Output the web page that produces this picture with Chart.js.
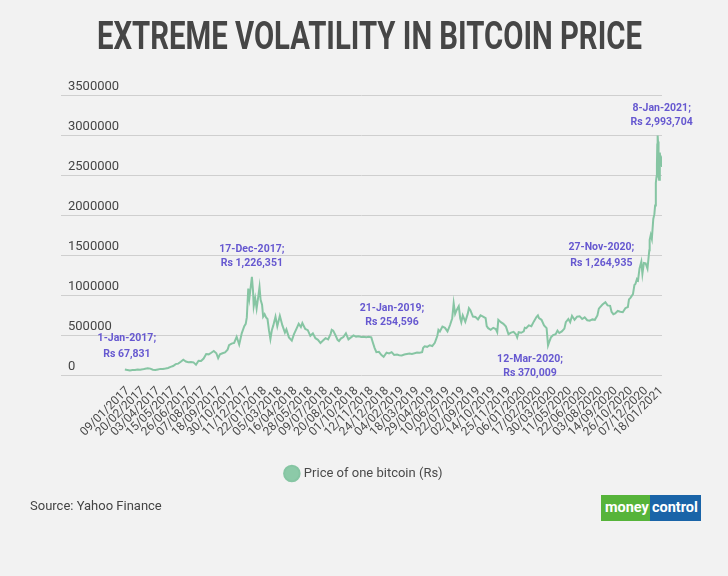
<!DOCTYPE html>
<html><head><meta charset="utf-8">
<script src="https://cdn.jsdelivr.net/npm/chart.js@4.4.0/dist/chart.umd.min.js"></script>
<style>
html,body{margin:0;padding:0;width:728px;height:576px;overflow:hidden;background:#f2f2f2;}
#wrap{position:relative;width:728px;height:576px;}
#title{position:absolute;left:0;top:17px;width:728px;text-align:center;padding-left:7px;box-sizing:border-box;font:bold 39px/39px Roboto,sans-serif;color:#464646;white-space:nowrap;}
#title span{display:inline-block;transform-origin:50% 50%;}
#source{position:absolute;left:30px;top:498px;font:13px/16px Roboto,sans-serif;color:#444;white-space:nowrap;}
#logo{position:absolute;left:601px;top:495px;height:26px;display:flex;font:bold 14.5px/26px Roboto,sans-serif;color:#fff;}
#logo .g{background:#56b43a;padding:0 1px 0 4px;}
#logo .b{background:#1a64a8;padding:0 3px 0 2px;}
canvas{position:absolute;left:0;top:0;}
</style></head>
<body><div id="wrap">
<canvas id="c" width="728" height="576"></canvas>
<div id="title"><span>EXTREME VOLATILITY IN BITCOIN PRICE</span></div>
<div id="source">Source: Yahoo Finance</div>
<div id="logo"><span class="g">money</span><span class="b">control</span></div>
</div>
<script>
const seriesName = 'Price of one bitcoin (Rs)';
const dates = [
'2017-01-01','2017-01-08','2017-01-15','2017-01-22','2017-01-29','2017-02-05','2017-02-12','2017-02-19','2017-02-26','2017-03-05',
'2017-03-12','2017-03-19','2017-03-26','2017-04-02','2017-04-09','2017-04-16','2017-04-23','2017-04-30','2017-05-07','2017-05-14',
'2017-05-21','2017-05-28','2017-06-04','2017-06-11','2017-06-18','2017-06-25','2017-07-02','2017-07-09','2017-07-16','2017-07-23',
'2017-07-30','2017-08-06','2017-08-13','2017-08-20','2017-08-27','2017-09-03','2017-09-10','2017-09-15','2017-09-20','2017-09-27',
'2017-10-04','2017-10-11','2017-10-15','2017-10-22','2017-10-29','2017-11-05','2017-11-12','2017-11-19','2017-11-26','2017-11-30',
'2017-12-03','2017-12-07','2017-12-10','2017-12-13','2017-12-17','2017-12-20','2017-12-22','2017-12-26','2017-12-30',
'2018-01-03','2018-01-07','2018-01-10','2018-01-14','2018-01-17','2018-01-21','2018-01-25','2018-01-29','2018-02-02','2018-02-06',
'2018-02-10','2018-02-14','2018-02-20','2018-02-25','2018-03-04','2018-03-11','2018-03-18','2018-03-22','2018-03-29','2018-04-06',
'2018-04-12','2018-04-19','2018-04-25','2018-05-01','2018-05-05','2018-05-13','2018-05-20','2018-05-27','2018-06-03','2018-06-10',
'2018-06-17','2018-06-24','2018-07-01','2018-07-08','2018-07-15','2018-07-22','2018-07-25','2018-07-29','2018-08-05','2018-08-10',
'2018-08-14','2018-08-19','2018-08-26','2018-09-02','2018-09-09','2018-09-16','2018-09-23','2018-09-30','2018-10-07','2018-10-14',
'2018-10-21','2018-10-28','2018-11-04','2018-11-11','2018-11-15','2018-11-20','2018-11-25','2018-12-02','2018-12-09','2018-12-15',
'2018-12-23','2018-12-30',
'2019-01-06','2019-01-13','2019-01-21','2019-01-27','2019-02-03','2019-02-10','2019-02-17','2019-02-24','2019-03-03','2019-03-10',
'2019-03-17','2019-03-24','2019-03-31','2019-04-03','2019-04-07','2019-04-14','2019-04-21','2019-04-28','2019-05-05','2019-05-12',
'2019-05-15','2019-05-19','2019-05-26','2019-06-02','2019-06-09','2019-06-16','2019-06-22','2019-06-26','2019-06-30','2019-07-04',
'2019-07-10','2019-07-14','2019-07-17','2019-07-21','2019-07-28','2019-08-04','2019-08-07','2019-08-11','2019-08-18','2019-08-25',
'2019-09-01','2019-09-08','2019-09-15','2019-09-22','2019-09-25','2019-09-29','2019-10-06','2019-10-13','2019-10-20','2019-10-24',
'2019-10-27','2019-11-03','2019-11-10','2019-11-17','2019-11-24','2019-12-01','2019-12-08','2019-12-15','2019-12-18','2019-12-22',
'2019-12-29',
'2020-01-05','2020-01-08','2020-01-12','2020-01-19','2020-01-26','2020-02-02','2020-02-09','2020-02-13','2020-02-16','2020-02-23',
'2020-03-01','2020-03-08','2020-03-12','2020-03-15','2020-03-20','2020-03-26','2020-04-02','2020-04-07','2020-04-12','2020-04-19',
'2020-04-26','2020-04-30','2020-05-07','2020-05-12','2020-05-17','2020-05-24','2020-05-31','2020-06-07','2020-06-14','2020-06-21',
'2020-06-28','2020-07-05','2020-07-12','2020-07-19','2020-07-26','2020-07-30','2020-08-02','2020-08-09','2020-08-17','2020-08-23',
'2020-08-30','2020-09-03','2020-09-08','2020-09-13','2020-09-20','2020-09-27','2020-10-04','2020-10-11','2020-10-18','2020-10-21',
'2020-10-25','2020-11-01','2020-11-05','2020-11-08','2020-11-12','2020-11-15','2020-11-19','2020-11-24','2020-11-27','2020-12-01',
'2020-12-06','2020-12-11','2020-12-16','2020-12-17','2020-12-20','2020-12-23','2020-12-27','2020-12-30',
'2021-01-01','2021-01-03','2021-01-05','2021-01-06','2021-01-07','2021-01-08','2021-01-09','2021-01-10','2021-01-11','2021-01-12',
'2021-01-14','2021-01-16','2021-01-18','2021-01-20'
];
const prices = [
67831,62000,56500,61500,62500,68500,67000,70500,78500,84000,
80000,66000,64000,70000,76500,76000,81000,88000,102000,112000,
136000,142000,165000,190000,168000,160000,162000,158000,128000,178000,
176000,206000,262000,258000,278000,300000,272000,210000,258000,272000,
282000,315000,372000,392000,402000,478000,380000,520000,610000,640000,
720000,1080000,960000,1070000,1226351,1060000,860000,960000,830000,
960000,1100000,940000,880000,730000,760000,720000,700000,560000,450000,
560000,620000,730000,610000,740000,620000,530000,570000,470000,430000,
510000,580000,640000,600000,650000,575000,560000,490000,520000,460000,
440000,400000,430000,460000,445000,515000,565000,555000,490000,440000,
425000,455000,475000,520000,445000,470000,495000,480000,485000,475000,
478000,472000,478000,470000,410000,340000,285000,290000,250000,228000,
280000,270000,
285000,250000,254596,248000,245000,256000,262000,268000,264000,272000,
282000,278000,285000,340000,358000,352000,372000,362000,402000,490000,
565000,545000,605000,590000,545000,625000,710000,896000,765000,810000,
860000,710000,660000,745000,665000,770000,835000,810000,730000,725000,
695000,745000,730000,710000,610000,585000,565000,590000,575000,535000,
690000,660000,640000,605000,510000,530000,540000,505000,470000,535000,
528000,
545000,590000,585000,620000,610000,670000,725000,745000,710000,690000,
620000,585000,370009,410000,470000,500000,510000,555000,525000,545000,
580000,660000,700000,660000,740000,690000,730000,735000,700000,720000,
685000,680000,695000,690000,745000,830000,845000,880000,910000,870000,
865000,790000,760000,770000,800000,790000,785000,835000,850000,945000,
965000,1010000,1125000,1140000,1200000,1185000,1330000,1415000,1264935,1400000,
1395000,1330000,1560000,1690000,1750000,1700000,1950000,2010000,
2120000,2400000,2480000,2620000,2880000,2993704,2920000,2780000,2500000,2440000,
2780000,2660000,2690000,2600000
];
const xTickLabels = ['09/01/2017','20/02/2017','03/04/2017','15/05/2017','26/06/2017','07/08/2017','18/09/2017','30/10/2017','11/12/2017',
'22/01/2018','05/03/2018','16/04/2018','28/05/2018','09/07/2018','20/08/2018','01/10/2018','12/11/2018','24/12/2018',
'04/02/2019','18/03/2019','29/04/2019','10/06/2019','22/07/2019','02/09/2019','14/10/2019','25/11/2019',
'06/01/2020','17/02/2020','30/03/2020','11/05/2020','22/06/2020','03/08/2020','14/09/2020','26/10/2020','07/12/2020','18/01/2021'];
const annDates = ['2017-01-01','2017-12-17','2019-01-21','2020-03-12','2020-11-27','2021-01-08'];
const annValues = [67831,1226351,254596,370009,1264935,2993704];

const MONTHS = ['Jan','Feb','Mar','Apr','May','Jun','Jul','Aug','Sep','Oct','Nov','Dec'];
const BASE = Date.UTC(2017,0,1);
const dayOf = s => (Date.UTC(+s.slice(0,4), +s.slice(5,7)-1, +s.slice(8,10)) - BASE)/864e5;
const dayOfDMY = s => { const p = s.split('/'); return (Date.UTC(+p[2], +p[1]-1, +p[0]) - BASE)/864e5; };
const fmtDate = s => (+s.slice(8,10)) + '-' + MONTHS[+s.slice(5,7)-1] + '-' + s.slice(0,4) + ';';
const points = dates.map((d,i)=>({x: dayOf(d), y: prices[i]}));
const tickDays = xTickLabels.map(dayOfDMY);

const annOffsets = [[2,-31,-15],[0,-28,-14],[-5,-46,-32],[-18,14,28],[-41,-26,-10],[4,-27,-13]];
const annPlugin = {
  id:'ann',
  afterDatasetsDraw(chart){
    const {ctx, scales:{x,y}} = chart;
    ctx.save();
    ctx.font = 'bold 10.5px Roboto, sans-serif';
    ctx.fillStyle = '#6658d0';
    ctx.textAlign = 'center'; ctx.textBaseline = 'middle';
    annDates.forEach((d,i)=>{
      const px = x.getPixelForValue(dayOf(d)), py = y.getPixelForValue(annValues[i]);
      const o = annOffsets[i];
      ctx.fillText(fmtDate(d), px+o[0], py+o[1]);
      ctx.fillText('Rs ' + annValues[i].toLocaleString('en-US'), px+o[0], py+o[2]);
    });
    ctx.restore();
  }
};
const legendShift = {
  id:'legendShift',
  afterLayout(chart){ if (chart.legend){ chart.legend.left += 10; chart.legend.right += 10; } }
};

new Chart(document.getElementById('c'), {
  type:'line',
  data:{ datasets:[{ label: seriesName, data: points, borderColor:'#86c5a3', backgroundColor:'#8ccaa8',
    borderWidth:2, pointRadius:0, pointHoverRadius:0, tension:0, fill:false, pointStyle:'circle' }]},
  options:{
    responsive:false, animation:false, devicePixelRatio:1, events:[],
    layout:{ padding:{ left:47, right:66, top:95, bottom:86 } },
    scales:{
      x:{ type:'linear', min:-176, max:1480,
        grid:{ display:false, drawTicks:false }, border:{ display:false },
        afterBuildTicks: s => { s.ticks = tickDays.map(v=>({value:v})); },
        afterFit: s => { s.height = 82; },
        ticks:{ autoSkip:false, minRotation:45, maxRotation:45, padding:9, color:'#4a4a4a',
          font:{ family:'Roboto', size:12 },
          callback:(v,i)=> xTickLabels[i] }
      },
      y:{ min:0, max:3500000,
        grid:{ color:'#cfcfcf', lineWidth:1, drawTicks:false }, border:{ display:false },
        ticks:{ stepSize:500000, mirror:true, padding:7, labelOffset:-8, color:'#454545',
          font:{ family:'Roboto', size:13 }, callback: v => String(v) }
      }
    },
    plugins:{
      legend:{ position:'bottom', labels:{ usePointStyle:true, pointStyle:'circle', boxWidth:11, boxHeight:11,
        padding:10, color:'#4a4a4a', font:{ family:'Roboto', size:13 } } },
      tooltip:{ enabled:false }
    }
  },
  plugins:[annPlugin, legendShift]
});

const t = document.querySelector('#title span');
const w = t.getBoundingClientRect().width;
t.style.transform = 'scaleX(' + (545 / w) + ')';
</script>
</body></html>
